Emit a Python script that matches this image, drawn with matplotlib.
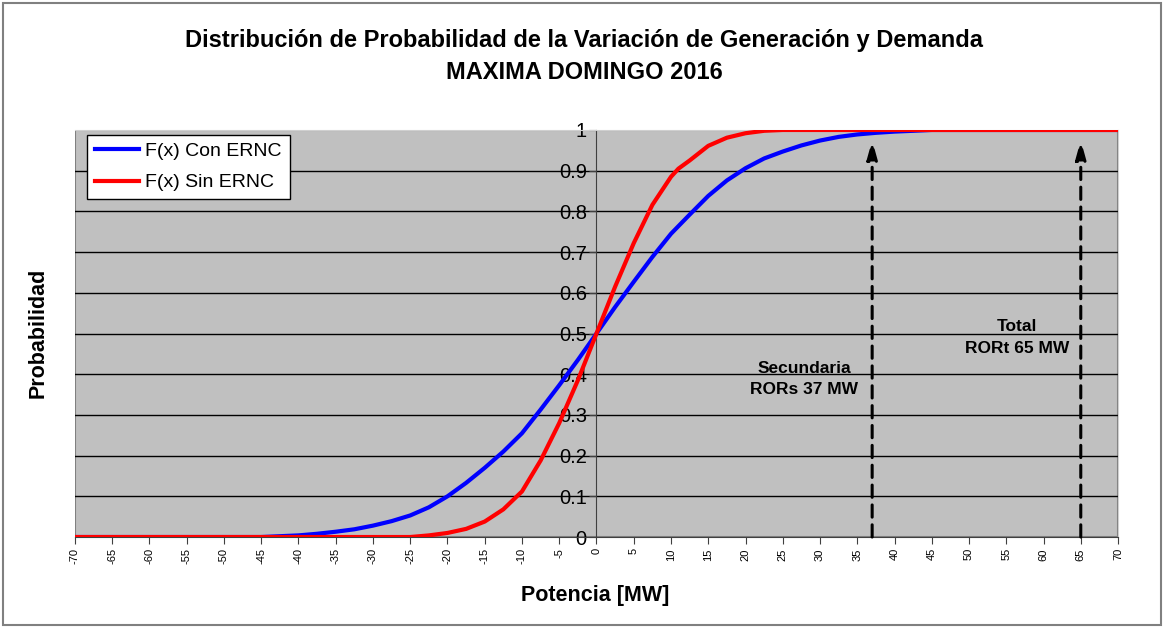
import numpy as np
import matplotlib
matplotlib.use('Agg')
import matplotlib.pyplot as plt
from matplotlib.patches import Rectangle

plt.rcParams['font.family'] = ['Liberation Sans', 'DejaVu Sans']

# curves
x_con = [-70, -45, -42.5, -40, -37.5, -35, -32.5, -30, -27.5, -25, -22.5, -20,
         -17.5, -15, -12.5, -10, -7.5, -5, -2.5, 0, 2.5, 5, 7.5, 10, 12.5, 15,
         17.5, 20, 22.5, 25, 27.5, 30, 32.5, 35, 37.5, 40, 42.5, 45, 70]
y_con = [0, 0, 0.002, 0.004, 0.008, 0.013, 0.019, 0.028, 0.039, 0.053, 0.073, 0.1,
         0.133, 0.17, 0.21, 0.255, 0.313, 0.373, 0.435, 0.5, 0.565, 0.627, 0.688,
         0.745, 0.792, 0.838, 0.876, 0.906, 0.93, 0.947, 0.962, 0.974, 0.983,
         0.989, 0.993, 0.996, 0.998, 1.0, 1.0]

x_sin = [-70, -25, -22.5, -20, -17.5, -15, -12.5, -10, -7.5, -5, -2.5, 0, 2.5,
         5, 7.5, 10, 11, 12.5, 15, 17.5, 20, 22.5, 25, 70]
y_sin = [0, 0, 0.004, 0.01, 0.02, 0.038, 0.068, 0.112, 0.188, 0.28, 0.385, 0.5,
         0.615, 0.722, 0.816, 0.885, 0.905, 0.925, 0.961, 0.981, 0.992, 0.998, 1.0, 1.0]

reserves = [37, 65]
reserve_txt = ['Secundaria\nRORs 37 MW', 'Total\nRORt 65 MW']
txt_pos = [(27.9, 0.388), (56.4, 0.49)]

fig = plt.figure(figsize=(11.64, 6.27), dpi=100)
fig.patches.append(Rectangle((0.003, 0.003), 0.994, 0.992, transform=fig.transFigure,
                             fill=False, edgecolor='#808080', lw=1.5))
ax = fig.add_axes([0.0644, 0.1435, 0.8961, 0.6492])
ax.set_facecolor('#c0c0c0')

ax.set_xlim(-70, 70)
ax.set_ylim(0, 1)

for yv in np.arange(0.1, 1.0, 0.1):
    ax.axhline(yv, color='black', lw=1, zorder=1)

ax.plot(x_con, y_con, color='#0000ff', lw=3, label='F(x) Con ERNC', zorder=3,
        solid_joinstyle='round')
ax.plot(x_sin, y_sin, color='#ff0000', lw=3, label='F(x) Sin ERNC', zorder=3,
        solid_joinstyle='round')

for xr, t, p in zip(reserves, reserve_txt, txt_pos):
    ax.annotate('', xy=(xr, 0.975), xytext=(xr, 0),
                arrowprops=dict(arrowstyle='-|>,head_width=0.22,head_length=0.8',
                                color='black', lw=2.2,
                                linestyle=(0, (4, 2.5)), mutation_scale=14,
                                shrinkA=0, shrinkB=0), zorder=4)
    ax.text(p[0], p[1], t, ha='center', va='center', fontsize=12.5,
            fontweight='bold', linespacing=1.55, zorder=4)

# frame
for s in ['top', 'right']:
    ax.spines[s].set_color('#d0d0d0')
ax.spines['left'].set_position(('data', 0))
ax.spines['left'].set_color('#404040')
ax.spines['bottom'].set_color('#404040')
ax.add_patch(Rectangle((0, 0), 1, 1, transform=ax.transAxes, fill=False,
                       edgecolor='#808080', lw=1.5, zorder=0.5))

ax.set_xticks(np.arange(-70, 71, 5))
ax.set_xticklabels([str(v) for v in range(-70, 71, 5)], rotation=90, fontsize=8)
ax.set_yticks(np.arange(0, 1.01, 0.1))
ax.set_yticklabels(['0', '0.1', '0.2', '0.3', '0.4', '0.5', '0.6', '0.7', '0.8',
                    '0.9', '1'], fontsize=14.5)
ax.tick_params(axis='x', direction='out', length=5, color='#404040', pad=3)
ax.tick_params(axis='y', direction='out', length=5, color='#404040', pad=2)

fig.text(0.511, 0.051, 'Potencia [MW]', fontsize=15.5, fontweight='bold',
         ha='center', va='center')
fig.text(0.033, 0.469, 'Probabilidad', rotation=90, fontsize=15.5, fontweight='bold',
         ha='center', va='center')

fig.text(0.502, 0.936, 'Distribución de Probabilidad de la Variación de Generación y Demanda',
         fontsize=17, fontweight='bold', ha='center', va='center')
fig.text(0.502, 0.885, 'MAXIMA DOMINGO 2016', fontsize=17, fontweight='bold',
         ha='center', va='center')

leg = ax.legend(loc='upper left', bbox_to_anchor=(0.0115, 0.988), fontsize=14,
                frameon=True, fancybox=False, edgecolor='black', framealpha=1,
                handlelength=2.3, borderpad=0.4, labelspacing=0.7, handletextpad=0.3,
                borderaxespad=0)
leg.get_frame().set_linewidth(1)

fig.savefig('out.png', dpi=100)
